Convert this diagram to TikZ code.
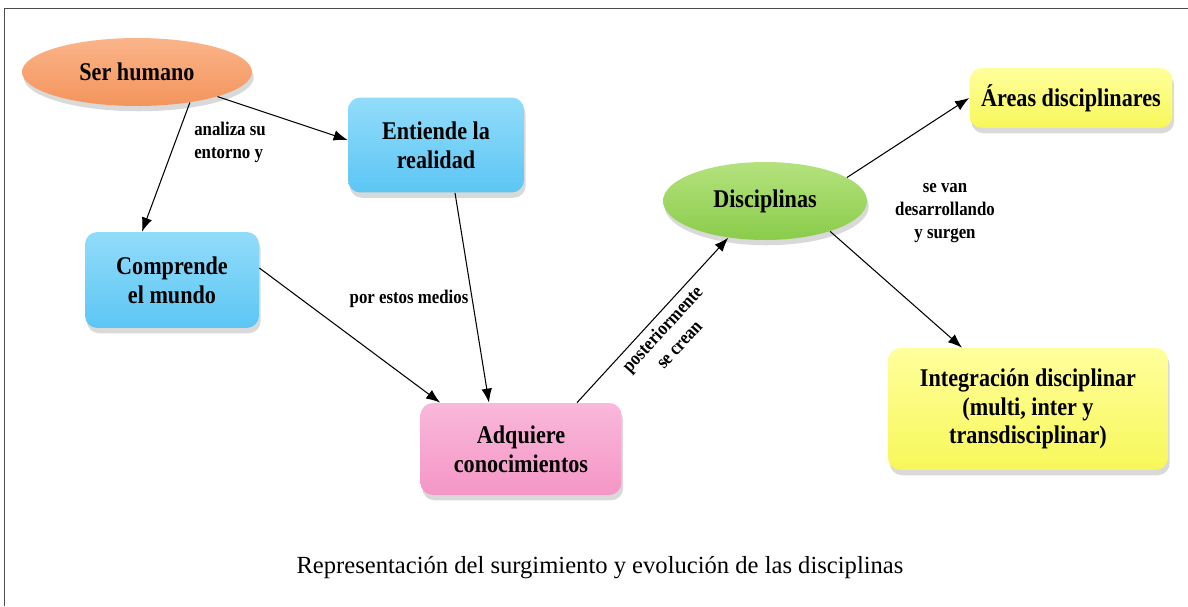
\documentclass[tikz,border=0pt]{standalone}
\usepackage{fontspec}
\setmainfont{Liberation Serif}
\newfontfamily\narrowfont{Liberation Serif}[FakeStretch=0.87]
\usetikzlibrary{shapes.geometric,shadows,arrows.meta}

\definecolor{humanorange}{HTML}{F4945C}
\definecolor{humanlight}{HTML}{FAB48A}
\definecolor{boxblue}{HTML}{5CC6F4}
\definecolor{boxbluelight}{HTML}{92DCFA}
\definecolor{boxpink}{HTML}{F596C6}
\definecolor{boxpinklight}{HTML}{F9B8DA}
\definecolor{discgreen}{HTML}{8ACC4A}
\definecolor{discgreenlight}{HTML}{B4E27E}
\definecolor{boxyellow}{HTML}{F7F75A}
\definecolor{boxyellowlight}{HTML}{FFFF9C}

\begin{document}
\begin{tikzpicture}[x=0.02cm, y=0.02cm,
    dropshade/.style={drop shadow={shadow xshift=1pt, shadow yshift=-3pt, opacity=0.3}},
    concept/.style={dropshade, rounded corners=7pt, align=center, inner sep=2pt,
        font=\narrowfont\bfseries\fontsize{14.5}{16.3}\selectfont},
    oval/.style={dropshade, ellipse, inner sep=0pt,
        font=\narrowfont\bfseries\fontsize{14.5}{16.3}\selectfont},
    edgetext/.style={align=center, inner sep=1pt,
        font=\narrowfont\bfseries\fontsize{11}{13}\selectfont},
    conn/.style={draw, line width=0.6pt, -{Latex[length=8pt,width=6pt]}},
    frame/.style={draw=black!70, line width=0.9pt}]
    \useasboundingbox (0,0) rectangle (1188,606);
    \draw[frame] (4.5,0) -- (4.5,597.5) -- (1188,597.5);

    % nodes
    \node[oval, minimum width=4.6cm, minimum height=1.36cm,
        top color=humanlight, bottom color=humanorange] (human) at (137,534) {Ser humano};
    \node[concept, minimum width=3.52cm, minimum height=1.9cm,
        top color=boxbluelight, bottom color=boxblue] (realidad) at (436,461) {Entiende la\\realidad};
    \node[concept, minimum width=3.48cm, minimum height=1.92cm,
        top color=boxbluelight, bottom color=boxblue] (mundo) at (172,326) {Comprende\\el mundo};
    \node[concept, minimum width=4.02cm, minimum height=1.84cm,
        top color=boxpinklight, bottom color=boxpink] (conoc) at (521,157) {Adquiere\\conocimientos};
    \node[oval, minimum width=4.08cm, minimum height=1.56cm,
        top color=discgreenlight, bottom color=discgreen] (discip) at (765,405) {Disciplinas};
    \node[concept, minimum width=4.06cm, minimum height=1.2cm,
        top color=boxyellowlight, bottom color=boxyellow] (areas) at (1071,508) {Áreas disciplinares};
    \node[concept, minimum width=5.6cm, minimum height=2.44cm,
        top color=boxyellowlight, bottom color=boxyellow] (integ) at (1028,197)
        {Integración disciplinar\\(multi, inter y\\transdisciplinar)};

    % labels
    \node[edgetext, align=left] (analiza) at (230,464) {analiza su\\entorno y};
    \node[edgetext] (medios) at (409,307) {por estos medios};
    \node[edgetext] (surgen) at (945,393) {se van\\desarrollando\\y surgen};

    % connectors
    \draw[conn] (human.-30) -- ([xshift=-0.6cm]mundo.north);
    \draw[conn] (human.-17) -- ([yshift=0.1cm]realidad.west);
    \draw[conn] ([yshift=0.24cm]mundo.east) -- ([xshift=0.4cm]conoc.north west);
    \draw[conn] ([xshift=0.38cm]realidad.south) -- ([xshift=-0.64cm]conoc.north);
    \draw[conn] ([xshift=1.12cm]conoc.north) -- (discip.-135)
        node[edgetext, midway, sloped, below=2pt] (crean) {posteriormente\\se crean};
    \draw[conn] (discip.16) -- (areas.west);
    \draw[conn] (discip.-25) -- ([xshift=-1.32cm]integ.north);

    \node[font=\fontsize{14}{16}\selectfont] (caption) at (600,38)
        {Representación del surgimiento y evolución de las disciplinas};
\end{tikzpicture}
\end{document}
